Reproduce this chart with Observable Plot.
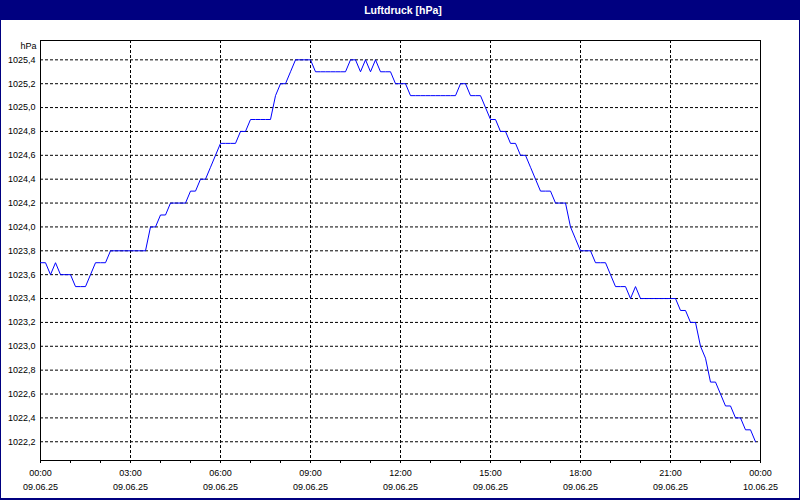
<!DOCTYPE html>
<html>
<head>
<meta charset="utf-8">
<script src="https://cdn.jsdelivr.net/npm/d3@7"></script>
<script src="https://cdn.jsdelivr.net/npm/@observablehq/plot@0.6"></script>
<style>
html, body { margin: 0; padding: 0; background: #fff; }
#wrap { position: relative; width: 800px; height: 500px; background: #fff; overflow: hidden; font-family: "Liberation Sans", Arial, sans-serif; }
#title { height: 20px; background: #000080; color: #fff; font-weight: bold; font-size: 10.5px; line-height: 20px; text-align: center; padding-left: 6px; box-sizing: border-box; }
#border { position: absolute; left: 0; top: 0; width: 800px; height: 500px; box-sizing: border-box; border: 1px solid #000080; border-bottom-width: 2px; pointer-events: none; }
#chart svg { display: block; }
</style>
</head>
<body>
<div id="wrap">
  <div id="title">Luftdruck [hPa]</div>
  <div id="chart"></div>
  <div id="border"></div>
</div>
<script>
// --- Data (10-minute readings, 09.06.25 00:00 .. 23:50) ---
const stepMinutes = 10;
const pressure = [
  1023.7, 1023.7, 1023.6, 1023.7, 1023.6, 1023.6, // 00
  1023.6, 1023.5, 1023.5, 1023.5, 1023.6, 1023.7, // 01
  1023.7, 1023.7, 1023.8, 1023.8, 1023.8, 1023.8, // 02
  1023.8, 1023.8, 1023.8, 1023.8, 1024.0, 1024.0, // 03
  1024.1, 1024.1, 1024.2, 1024.2, 1024.2, 1024.2, // 04
  1024.3, 1024.3, 1024.4, 1024.4, 1024.5, 1024.6, // 05
  1024.7, 1024.7, 1024.7, 1024.7, 1024.8, 1024.8, // 06
  1024.9, 1024.9, 1024.9, 1024.9, 1024.9, 1025.1, // 07
  1025.2, 1025.2, 1025.3, 1025.4, 1025.4, 1025.4, // 08
  1025.4, 1025.3, 1025.3, 1025.3, 1025.3, 1025.3, // 09
  1025.3, 1025.3, 1025.4, 1025.4, 1025.3, 1025.4, // 10
  1025.3, 1025.4, 1025.3, 1025.3, 1025.3, 1025.2, // 11
  1025.2, 1025.2, 1025.1, 1025.1, 1025.1, 1025.1, // 12
  1025.1, 1025.1, 1025.1, 1025.1, 1025.1, 1025.1, // 13
  1025.2, 1025.2, 1025.1, 1025.1, 1025.1, 1025.0, // 14
  1024.9, 1024.9, 1024.8, 1024.8, 1024.7, 1024.7, // 15
  1024.6, 1024.6, 1024.5, 1024.4, 1024.3, 1024.3, // 16
  1024.3, 1024.2, 1024.2, 1024.2, 1024.0, 1023.9, // 17
  1023.8, 1023.8, 1023.8, 1023.7, 1023.7, 1023.7, // 18
  1023.6, 1023.5, 1023.5, 1023.5, 1023.4, 1023.5, // 19
  1023.4, 1023.4, 1023.4, 1023.4, 1023.4, 1023.4, // 20
  1023.4, 1023.4, 1023.3, 1023.3, 1023.2, 1023.2, // 21
  1023.0, 1022.9, 1022.7, 1022.7, 1022.6, 1022.5, // 22
  1022.5, 1022.4, 1022.4, 1022.3, 1022.3, 1022.2  // 23
];
const tickHours = ["00:00","03:00","06:00","09:00","12:00","15:00","18:00","21:00","00:00"];
const tickDates = ["09.06.25","09.06.25","09.06.25","09.06.25","09.06.25","09.06.25","09.06.25","09.06.25","10.06.25"];
const yTicks = [1022.2,1022.4,1022.6,1022.8,1023.0,1023.2,1023.4,1023.6,1023.8,1024.0,1024.2,1024.4,1024.6,1024.8,1025.0,1025.2,1025.4];
const yDomain = [1022.043, 1025.562];
const unitLabel = "hPa";

// --- Build table ---
const start = Date.UTC(2025, 5, 9, 0, 0);
const data = pressure.map((v, i) => ({ t: new Date(start + i * stepMinutes * 60000), v }));
const xTicks = tickHours.map((h, i) => new Date(start + i * 3 * 3600000));
const fmtX = d => {
  const i = xTicks.findIndex(t => +t === +d);
  return i < 0 ? "" : tickHours[i] + "\n" + tickDates[i];
};

const chart = Plot.plot({
  width: 800,
  height: 480,
  marginTop: 20,
  marginBottom: 40,
  marginLeft: 40,
  marginRight: 40,
  style: { fontFamily: "'Liberation Sans', Arial, sans-serif", fontSize: "9px", color: "#000", background: "#fff" },
  x: { type: "utc", domain: [xTicks[0], xTicks[xTicks.length - 1]] },
  y: { domain: yDomain },
  marks: [
    Plot.gridY(yTicks, { stroke: "#000", strokeOpacity: 1, strokeDasharray: "3,2" }),
    Plot.gridX(xTicks.slice(1, -1), { stroke: "#000", strokeOpacity: 1, strokeDasharray: "3,2" }),
    Plot.frame({ stroke: "#000" }),
    Plot.axisY(yTicks, { tickSize: 0, tickPadding: 5, tickFormat: d => d.toFixed(1).replace(".", ","), label: null }),
    Plot.axisX({ ticks: d3.utcHour.every(1), tickSize: 3, tickFormat: () => "", label: null }),
    Plot.axisX(xTicks, { tickSize: 0, tickPadding: 5, tickFormat: fmtX, lineHeight: 1.6, label: null }),
    Plot.text([unitLabel], { frameAnchor: "top-left", textAnchor: "end", lineAnchor: "top", dx: -4, dy: 2, fill: "#000" }),
    Plot.line(data, { x: "t", y: "v", stroke: "#0000ff", strokeWidth: 1 })
  ]
});
document.getElementById("chart").appendChild(chart);
</script>
</body>
</html>
